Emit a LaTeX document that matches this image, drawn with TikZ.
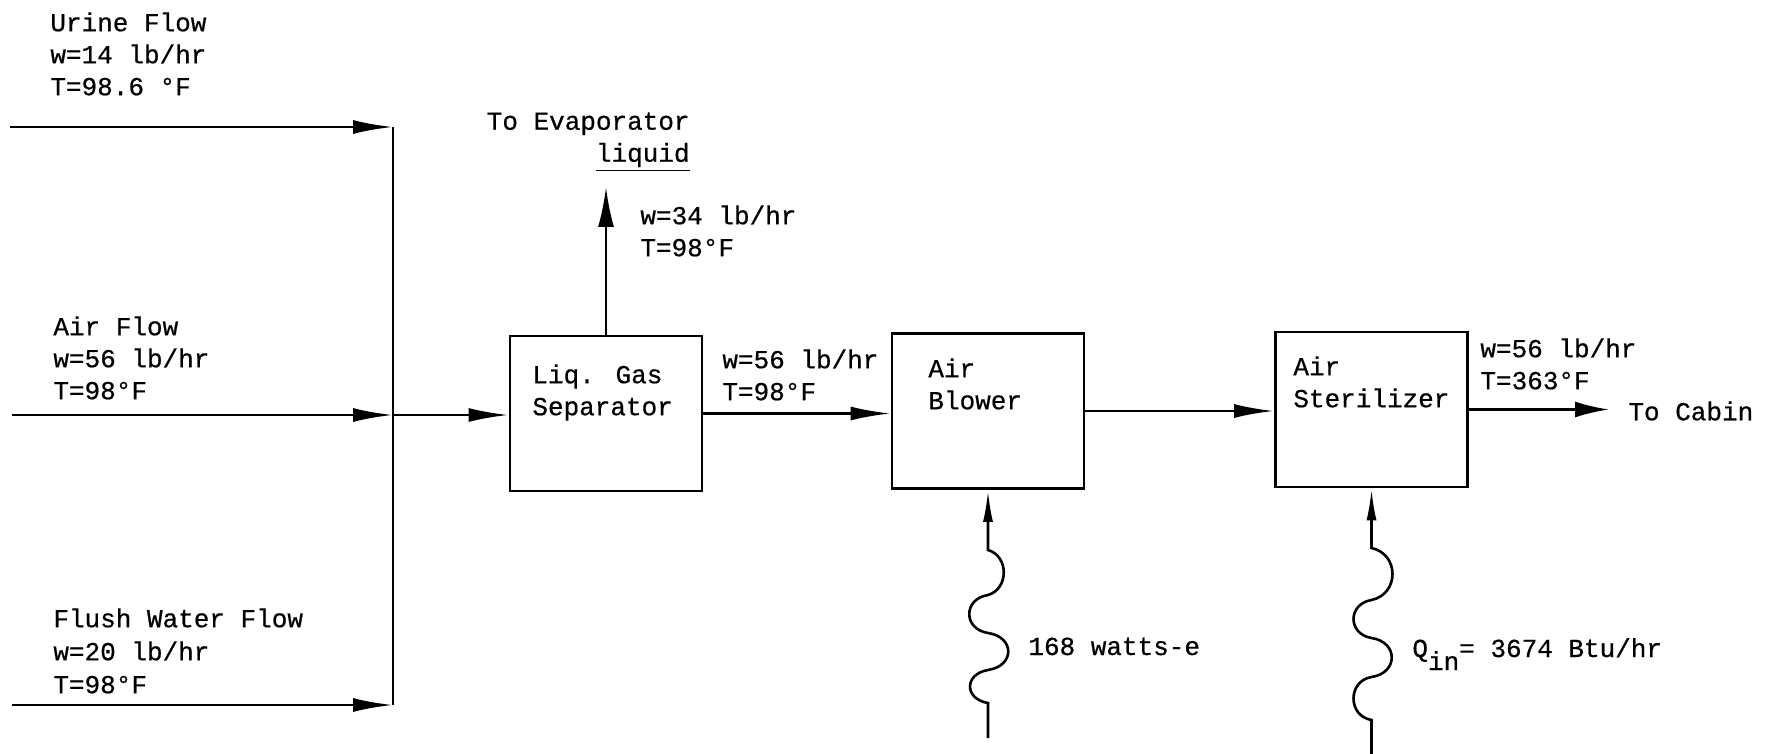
\documentclass[tikz,border=0pt]{standalone}
\usepackage{fontspec}
\newfontfamily\tw[FakeBold=0.6]{Liberation Mono}
\usetikzlibrary{arrows.meta}
\begin{document}
\begin{tikzpicture}[x=0.5pt,y=-0.5pt,
  every node/.style={font=\tw\fontsize{13}{16}\selectfont, inner sep=0pt, text=black},
  lbl/.style={anchor=north west, align=left},
  box/.style={draw, line width=1.4pt, minimum width=96pt, minimum height=77.5pt},
  flow/.style={line width=1.4pt, -{Latex[length=20pt,width=7pt]}},
  line/.style={line width=1.4pt},
  evapflow/.style={line width=1.3pt, -{Latex[length=20pt,width=8pt]}},
  cabinflow/.style={line width=1.3pt, -{Latex[length=17pt,width=8pt]}},
  heat/.style={line width=1.3pt, -{Latex[length=16pt,width=5pt]}},
  heatlbl/.style={anchor=base west}
]
\useasboundingbox (0,0) rectangle (1777,754);

% boxes
\node[box] (sep) at (606,413.5) {};
\node[box] (blower) at (988,411) {};
\node[box] (steril) at (1371.5,409.5) {};

% box texts
\node[lbl] (seplbl) at (532,364) {Liq. Gas\\Separator};
\node[lbl] (blwlbl) at (928,358) {Air\\Blower};
\node[lbl] (stlbl) at (1293,356) {Air\\Sterilizer};

% input labels
\node[lbl] (urine) at (50,12) {Urine Flow\\w=14 lb/hr\\T=98.6 °F};
\node[lbl] (air) at (53,316) {Air Flow\\w=56 lb/hr\\T=98°F};
\node[lbl, font=\tw\fontsize{13}{16.5}\selectfont] (flush) at (53,608) {Flush Water Flow\\w=20 lb/hr\\T=98°F};

% other labels
\node[anchor=north east, align=right] (evap) at (690,112) {To Evaporator\\\underline{liquid}};
\node[lbl] (liqlbl) at (640,205) {w=34 lb/hr\\T=98°F};
\node[lbl] (midlbl) at (722,349) {w=56 lb/hr\\T=98°F};
\node[lbl] (outlbl) at (1480,338) {w=56 lb/hr\\T=363°F};
\node[anchor=west] (cabin) at (1628,411) {To Cabin};
\node[heatlbl] (watts) at (1028,655) {168 watts-e};
\node[heatlbl] (qin) at (1412,657) {Q\raisebox{-6.5pt}{in}= 3674 Btu/hr};

% coordinates
\coordinate (U0) at (10,127);
\coordinate (U1) at (393,127);
\coordinate (A0) at (12,415);
\coordinate (J) at (393,415);
\coordinate (F0) at (12,705);
\coordinate (F1) at (393,705);
\coordinate (evtip) at (606,187);
\coordinate (cabtip) at (1609,409.5);
\coordinate (bw0) at (988,738);
\coordinate (sw0) at (1371.5,754);

% input flows
\draw[flow] (U0) -- (U1);
\draw[flow] (A0) -- (J);
\draw[flow] (F0) -- (F1);
\draw[line] (U1) -- (F1);
\draw[flow] (J) -- (J -| sep.west);

% main flows
\draw[evapflow] (sep.north) -- (evtip);
\draw[flow] (sep.east) -- (sep.east -| blower.west);
\draw[flow] (blower.east) -- (blower.east -| steril.west);
\draw[cabinflow] (steril.east) -- (cabtip);

% heat inputs
\draw[heat] (bw0) -- (988,703)
  .. controls +(-24,-4) and +(-24,4) .. (988,670)
  .. controls +(27,-4) and +(27,4) .. (988,633)
  .. controls +(-25,-4) and +(-25,4) .. (988,595)
  .. controls +(21,-6) and +(21,6) .. (988,550)
  -- (blower.south);
\draw[heat] (sw0) -- (1371.5,720)
  .. controls +(-24,-4) and +(-24,4) .. (1371.5,677)
  .. controls +(27,-4) and +(27,4) .. (1371.5,638)
  .. controls +(-24,-4) and +(-24,4) .. (1371.5,600)
  .. controls +(28,-6) and +(28,6) .. (1371.5,548)
  -- (steril.south);
\end{tikzpicture}
\end{document}
